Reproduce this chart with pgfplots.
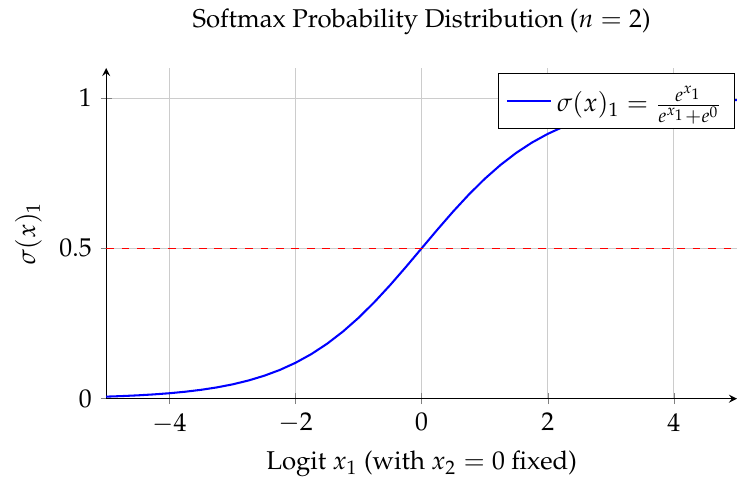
\documentclass[border={2.5pt 0pt 0pt 0pt}]{standalone}
\usepackage[T1]{fontenc}
\usepackage{mathpazo}
\usepackage{pgfplots}
\pgfplotsset{compat=1.18}

\begin{document}
\begin{tikzpicture}[trim axis right]
\begin{axis}[
    width=10.2cm, height=6.1cm,
    axis lines=left,
    xmin=-5, xmax=5, ymin=0, ymax=1.1,
    xtick={-4,-2,0,2,4},
    ytick={0,0.5,1},
    grid=major, grid style={gray!40},
    every axis y line/.append style={gray!80!black},
    title={Softmax Probability Distribution ($n=2$)},
    title style={yshift=3.5pt},
    xlabel={Logit $x_1$ (with $x_2=0$ fixed)},
    ylabel={$\sigma(x)_1$},
    legend style={at={(0.997,0.985)}, anchor=north east, legend cell align=left,
        inner sep=3pt},
]
    % sigmoid sampled by hand
    \addplot[blue, thick] coordinates {
        (-5,0.0067) (-4.75,0.0086) (-4.5,0.0110) (-4.25,0.0141) (-4,0.0180)
        (-3.75,0.0230) (-3.5,0.0293) (-3.25,0.0373) (-3,0.0474) (-2.75,0.0601)
        (-2.5,0.0759) (-2.25,0.0953) (-2,0.1192) (-1.75,0.1480) (-1.5,0.1824)
        (-1.25,0.2227) (-1,0.2689) (-0.75,0.3208) (-0.5,0.3775) (-0.25,0.4378)
        (0,0.5) (0.25,0.5622) (0.5,0.6225) (0.75,0.6792) (1,0.7311)
        (1.25,0.7773) (1.5,0.8176) (1.75,0.8520) (2,0.8808) (2.25,0.9047)
        (2.5,0.9241) (2.75,0.9399) (3,0.9526) (3.25,0.9627) (3.5,0.9707)
        (3.75,0.9770) (4,0.9820) (4.25,0.9859) (4.5,0.9890) (4.75,0.9914)
        (5,0.9933)
    };
    \addlegendentry{$\sigma(x)_1 = \frac{e^{x_1}}{e^{x_1}+e^{0}}$}
    \addplot[red, dashed, forget plot] coordinates {(-5,0.5) (5,0.5)};
\end{axis}
\end{tikzpicture}
\end{document}
